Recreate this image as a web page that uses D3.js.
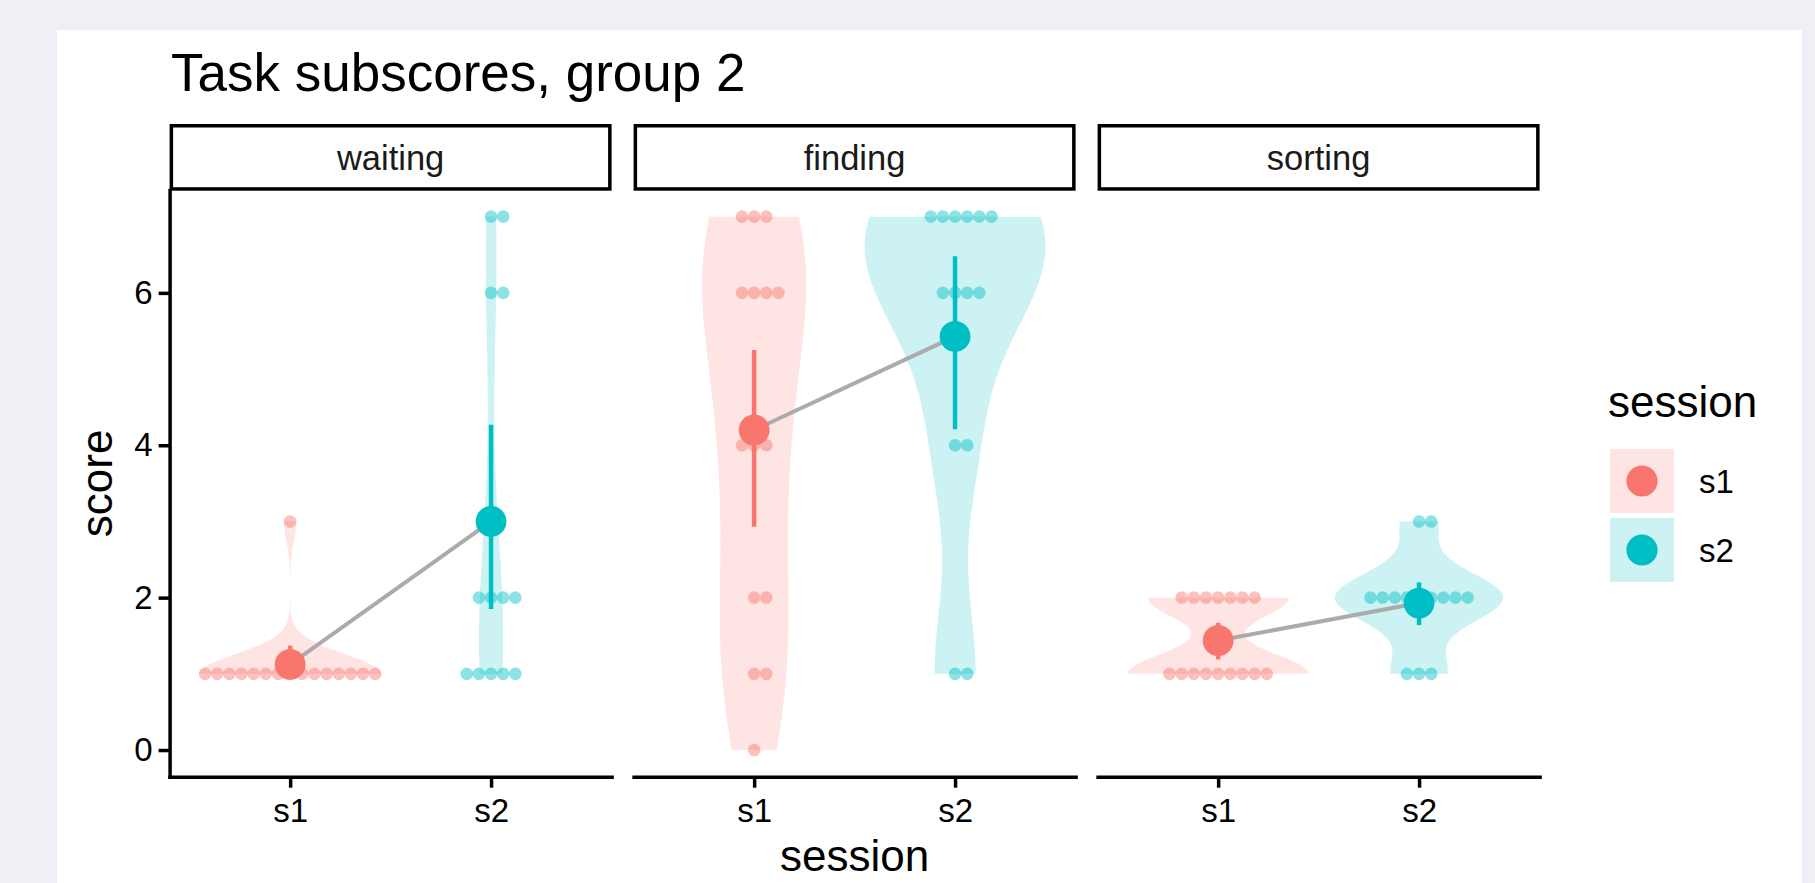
<!DOCTYPE html>
<html><head><meta charset="utf-8">
<script src="https://cdn.jsdelivr.net/npm/d3@7"></script>
<style>
html,body{margin:0;padding:0;background:#F1EFF6;}
svg{display:block;}
text{font-family:"Liberation Sans",Arial,Helvetica,sans-serif;}
</style></head><body>
<svg id="chart" width="1815" height="883"></svg>
<script>
// ---------------- data ----------------
const facets = ["waiting", "finding", "sorting"];
const sessions = ["s1", "s2"];
const scoreLevels = [0, 1, 2, 3, 4, 5, 6, 7];
const yTicks = [0, 2, 4, 6];
// number of participants at each score level (per facet, per session)
const waitingS1 = [0, 15, 0, 1, 0, 0, 0, 0];
const waitingS2 = [0, 5, 4, 0, 0, 0, 2, 2];
const findingS1 = [1, 2, 2, 0, 3, 0, 4, 3];
const findingS2 = [0, 2, 0, 0, 2, 0, 4, 6];
const sortingS1 = [0, 9, 7, 0, 0, 0, 0, 0];
const sortingS2 = [0, 3, 9, 2, 0, 0, 0, 0];
// confidence interval bounds of the mean (per facet)
const ciLowS1 = [1.00, 2.93, 1.19];
const ciHighS1 = [1.37, 5.25, 1.67];
const ciLowS2 = [1.85, 4.21, 1.64];
const ciHighS2 = [4.27, 6.48, 2.20];
const sessionColors = ["#F8766D", "#00BFC4"];

const countsTable = [[waitingS1, waitingS2], [findingS1, findingS2], [sortingS1, sortingS2]];
const ciTable = [[ciLowS1, ciHighS1], [ciLowS2, ciHighS2]];

// ---------------- layout ----------------
const svg = d3.select("#chart");
const W = 1815, H = 883;
const panel0 = 169.6, pitch = 464, panelW = 442;
const panelTop = 190, panelBottom = 776.7;
const font = '"Liberation Sans",Arial,Helvetica,sans-serif';

svg.append("rect").attr("x", 57).attr("y", 30).attr("width", 1802 - 57).attr("height", H - 30).attr("fill", "#ffffff");

const y = d3.scaleLinear().domain([-0.35, 7.35]).range([panelBottom, panelTop]);
const color = d3.scaleOrdinal().domain(sessions).range(sessionColors);

// title
svg.append("text").attr("x", 171).attr("y", 91).attr("font-size", 53).attr("fill", "#000")
  .text("Task subscores, group 2");

// helpers
function expand(counts) {
  const v = [];
  counts.forEach((c, i) => { for (let k = 0; k < c; k++) v.push(scoreLevels[i]); });
  return v;
}
function quantile7(sorted, p) {
  const h = (sorted.length - 1) * p, lo = Math.floor(h), hi = Math.ceil(h);
  return sorted[lo] + (h - lo) * (sorted[hi] - sorted[lo]);
}
function bwNrd0(x) {
  const s = x.slice().sort((a, b) => a - b);
  const hi = d3.deviation(x);
  let lo = Math.min(hi, (quantile7(s, 0.75) - quantile7(s, 0.25)) / 1.34);
  if (!lo) lo = hi || Math.abs(x[0]) || 1;
  return 0.9 * lo * Math.pow(x.length, -0.2);
}
function kde(x) {
  const bw = bwNrd0(x), n = x.length;
  const lo = d3.min(x), hi = d3.max(x);
  const pts = d3.range(512).map(i => lo + (hi - lo) * i / 511);
  return pts.map(p => {
    let s = 0;
    for (const xi of x) { const z = (p - xi) / bw; s += Math.exp(-0.5 * z * z); }
    return { y: p, d: s / (n * bw * Math.sqrt(2 * Math.PI)) };
  });
}

const dotD = 12.15, dotR = 6.3;

facets.forEach((facet, fi) => {
  const left = panel0 + fi * pitch;
  const x = d3.scalePoint().domain(sessions).range([left, left + panelW]).padding(0.6);
  const step = x.step();
  const g = svg.append("g");

  // strip
  g.append("rect").attr("x", left + 1.75).attr("y", 125.75).attr("width", panelW - 3.5).attr("height", 63.2)
    .attr("fill", "#fff").attr("stroke", "#000").attr("stroke-width", 3.5);
  g.append("text").attr("x", left + panelW / 2).attr("y", 169.5).attr("text-anchor", "middle")
    .attr("font-size", 34.5).attr("fill", "#1a1a1a").text(facet);

  // violins
  const vals = sessions.map((s, si) => expand(countsTable[fi][si]));
  const dens = vals.map(v => kde(v));
  const maxD = d3.max(dens.flat(), d => d.d);
  sessions.forEach((s, si) => {
    const cx = x(s);
    const area = d3.area()
      .x0(d => cx - d.d / maxD * 0.45 * step)
      .x1(d => cx + d.d / maxD * 0.45 * step)
      .y(d => y(d.y));
    g.append("path").datum(dens[si]).attr("d", area)
      .attr("fill", color(s)).attr("fill-opacity", 0.2);
  });

  // dots (centerwhole stacking)
  sessions.forEach((s, si) => {
    const cx = x(s);
    const counts = countsTable[fi][si];
    const dots = [];
    counts.forEach((c, li) => {
      for (let j = 0; j < c; j++) dots.push({ v: scoreLevels[li], k: j - Math.floor((c - 1) / 2) });
    });
    g.selectAll(null).data(dots).enter().append("circle")
      .attr("cx", d => cx + d.k * dotD).attr("cy", d => y(d.v)).attr("r", dotR)
      .attr("fill", color(s)).attr("fill-opacity", 0.45);
  });

  // means
  const means = vals.map(v => d3.mean(v));
  g.append("line")
    .attr("x1", x("s1")).attr("y1", y(means[0]))
    .attr("x2", x("s2")).attr("y2", y(means[1]))
    .attr("stroke", "#ABABAB").attr("stroke-width", 4);
  sessions.forEach((s, si) => {
    g.append("line").attr("x1", x(s)).attr("x2", x(s))
      .attr("y1", y(ciTable[si][0][fi])).attr("y2", y(ciTable[si][1][fi]))
      .attr("stroke", color(s)).attr("stroke-width", 4.5);
    g.append("circle").attr("cx", x(s)).attr("cy", y(means[si])).attr("r", 15.4)
      .attr("fill", color(s));
  });

  // x axis
  const ax = g.append("g").attr("transform", `translate(0,${panelBottom})`)
    .call(d3.axisBottom(x).tickSize(11).tickSizeOuter(0).tickPadding(11));
  ax.select(".domain").attr("stroke", "#000").attr("stroke-width", 3.5).attr("stroke-linecap", "square");
  ax.selectAll(".tick line").attr("stroke", "#000").attr("stroke-width", 3.5);
  ax.selectAll(".tick text").attr("font-size", 33).attr("fill", "#000").attr("font-family", font);

  if (fi === 0) {
    const ay = g.append("g").attr("transform", `translate(${left},0)`)
      .call(d3.axisLeft(y).tickValues(yTicks).tickSize(11).tickSizeOuter(0).tickPadding(6).tickFormat(d3.format("d")));
    ay.select(".domain").attr("stroke", "#000").attr("stroke-width", 3.5).attr("stroke-linecap", "square");
    ay.selectAll(".tick line").attr("stroke", "#000").attr("stroke-width", 3.5);
    ay.selectAll(".tick text").attr("font-size", 33).attr("fill", "#000").attr("font-family", font);
  }
});

// axis titles
svg.append("text").attr("x", panel0 + (2 * pitch + panelW) / 2).attr("y", 870.7).attr("text-anchor", "middle")
  .attr("font-size", 44).attr("fill", "#000").text("session");
svg.append("text").attr("transform", `translate(111.5,${(panelTop + panelBottom) / 2}) rotate(-90)`)
  .attr("text-anchor", "middle").attr("font-size", 44).attr("fill", "#000").text("score");

// legend
const lg = svg.append("g");
lg.append("text").attr("x", 1608).attr("y", 417).attr("font-size", 44).attr("fill", "#000").text("session");
sessions.forEach((s, si) => {
  const ky = 449 + si * 69;
  lg.append("rect").attr("x", 1610).attr("y", ky).attr("width", 64).attr("height", 64)
    .attr("fill", color(s)).attr("fill-opacity", 0.2);
  lg.append("circle").attr("cx", 1642).attr("cy", ky + 32).attr("r", 15.6).attr("fill", color(s));
  lg.append("text").attr("x", 1699).attr("y", ky + 32).attr("dy", "0.36em").attr("font-size", 33)
    .attr("fill", "#000").text(s);
});
</script>
</body></html>
